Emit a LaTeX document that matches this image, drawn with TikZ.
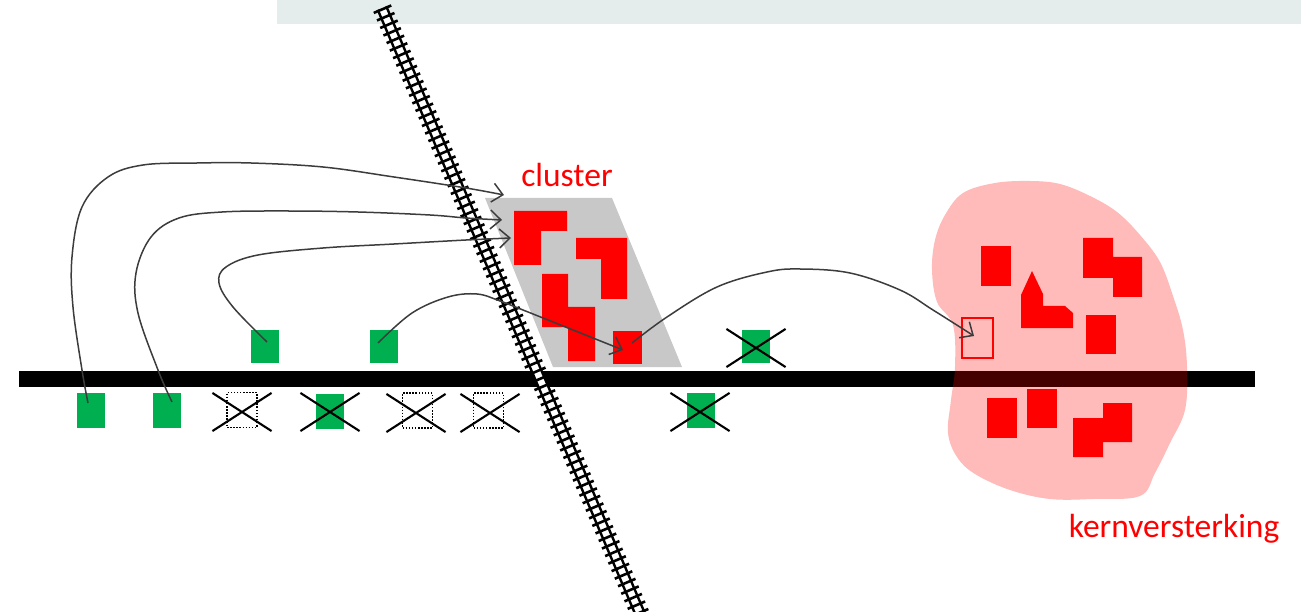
\documentclass[tikz,border=0pt]{standalone}
\usepackage{fontspec}
\setmainfont{Carlito}
\usetikzlibrary{arrows.meta,calc,shapes.misc}
\definecolor{grn}{RGB}{0,176,80}
\definecolor{bandc}{RGB}{228,237,235}
\definecolor{clg}{RGB}{200,200,200}
\definecolor{arrc}{RGB}{60,60,60}
\definecolor{rd}{RGB}{255,0,0}
\tikzset{
  gsq/.style={fill=grn, draw=none, minimum width=28, minimum height=35, inner sep=0},
  gsqu/.style={gsq, minimum height=33},
  dbox/.style={draw=black, line width=1.6, dash pattern=on 1.5pt off 1.6pt, minimum width=30, minimum height=35, inner sep=0},
  xmark/.style={cross out, draw=black, line width=2.1, minimum width=57, minimum height=36, inner sep=0},
  conn/.style={draw=arrc, line width=1.5, -{Straight Barb[length=10.5pt,width=19pt]}},
  lbl/.style={text=rd, font=\fontsize{33.5}{33.5}\selectfont, anchor=base, inner sep=0},
}
\begin{document}
\begin{tikzpicture}[x=1pt,y=-1pt]
\useasboundingbox (0,0) rectangle (1301,612);
\begin{scope}
\clip (0,0) rectangle (1301,612);
% top band
\fill[bandc] (277,0) rectangle (1301,24);
% cluster area
\fill[clg] (485,198) -- (612,198) -- (682,367) -- (553,367) -- cycle;
% road
\fill[black] (19,370.5) rectangle (1255,387);
% kernel blob
\fill[rd, opacity=0.27] plot[smooth cycle, tension=0.6] coordinates {
 (1030,181) (1060,184) (1090,196) (1117,212) (1140,235) (1160,262) (1173,296)
 (1183,330) (1187,367) (1185,410) (1170,443) (1155,473) (1140,496) (1093,499)
 (1050,499) (1010,490) (975,474) (957,457) (948,433) (951,400) (955,367)
 (953,325) (937,302) (932,270) (935,240) (945,215) (963,193) (995,183)};
% railway
\coordinate (rt) at (382,8);
\coordinate (rb) at (641,616);
\draw[white, line width=9] (rt) -- (rb);
\draw[black, line width=19, dash pattern=on 2.6pt off 5.6pt] (rt) -- (rb);
\draw[black, line width=2.4] ($(rt)!4.6pt!90:(rb)$) -- ($(rb)!4.6pt!-90:(rt)$);
\draw[black, line width=2.4] ($(rt)!4.6pt!-90:(rb)$) -- ($(rb)!4.6pt!90:(rt)$);
\end{scope}
% cluster red shapes
\fill[rd] (514,211) -- (567,211) -- (567,231) -- (541,231) -- (541,265) -- (514,265) -- cycle;
\fill[rd] (576,238) -- (627,238) -- (627,299) -- (601,299) -- (601,259) -- (576,259) -- cycle;
\fill[rd] (542,274) -- (568,274) -- (568,307) -- (595,307) -- (595,361) -- (568,361) -- (568,327) -- (542,327) -- cycle;
\node[fill=rd, minimum width=29, minimum height=33, inner sep=0] (cs) at (627.5,347.5) {};
% kernel red shapes
\fill[rd] (981,246) rectangle (1011,286);
\fill[rd] (1083,238) -- (1113,238) -- (1113,257) -- (1142,257) -- (1142,297) -- (1113,297) -- (1113,278) -- (1083,278) -- cycle;
\fill[rd] (1032,271) -- (1043,294) -- (1043,306) -- (1065,306) -- (1073,313) -- (1073,328) -- (1021,328) -- (1021,295) -- cycle;
\fill[rd] (1086,315) rectangle (1116,354);
\fill[rd] (987,398) rectangle (1017,438);
\fill[rd] (1027,389) rectangle (1057,428);
\fill[rd] (1073,418) -- (1103,418) -- (1103,403) -- (1132,403) -- (1132,442) -- (1103,442) -- (1103,457) -- (1073,457) -- cycle;
\node[draw=rd, line width=2.6, minimum width=31, minimum height=40, inner sep=0] (ko) at (977.5,338) {};
% green squares
\node[gsq] (A) at (91,410.5) {};
\node[gsq] (B) at (167,410.5) {};
\node[gsqu] (C) at (264.5,346.5) {};
\node[gsqu] (E) at (384,346.5) {};
\node[gsq] (F) at (330,411) {};
\node[gsqu] (I) at (755.5,346.5) {};
\node[gsq] (J) at (701,410) {};
% dotted (removed) plots
\node[dbox] (D) at (242,410) {};
\node[dbox] (G) at (417.5,410.5) {};
\node[dbox] (H) at (488.5,410.5) {};
% crosses
\node[xmark] (xD) at (242,412) {};
\node[xmark] (xF) at (330,412) {};
\node[xmark] (xG) at (416,413) {};
\node[xmark] (xH) at (490,413) {};
\node[xmark] (xI) at (756,348) {};
\node[xmark] (xJ) at (700,412) {};
% connectors
\coordinate (sA) at (88,403);   \coordinate (tA) at (504,195);
\coordinate (sB) at (172,402);  \coordinate (tB) at (502,220);
\coordinate (sC) at (267,342);  \coordinate (tC) at (511,238);
\coordinate (sE) at (378,343);  \coordinate (tE) at (623,350);
\coordinate (sK) at (632,343);  \coordinate (tK) at (974,336);
\draw[conn] plot[smooth, tension=0.6] coordinates {(sA) (82,370) (73,307) (72,257) (82,207) (108,177) (143,165) (197,163) (251,163) (323,167) (394,177) (466,188) (tA)};
\draw[conn] plot[smooth, tension=0.6] coordinates {(sB) (158,370) (138,313) (136,273) (151,237) (179,218) (222,212) (287,211) (358,212) (430,215) (466,218) (tB)};
\draw[conn] plot[smooth, tension=0.6] coordinates {(sC) (233,307) (219,283) (226,267) (258,255) (323,248) (394,244) (466,240) (tC)};
\draw[conn] plot[smooth, tension=0.6] coordinates {(sE) (412,313) (448,297) (477,294) (500,301) (523,310) (573,330) (tE)};
\draw[conn] plot[smooth, tension=0.6] coordinates {(sK) (667,317) (717,287) (767,272) (800,269) (850,273) (900,290) (933,310) (tK)};
% labels
\node[lbl] (lc) at (567,187) {cluster};
\node[lbl] (lk) at (1174,537) {kernversterking};
\end{tikzpicture}
\end{document}
